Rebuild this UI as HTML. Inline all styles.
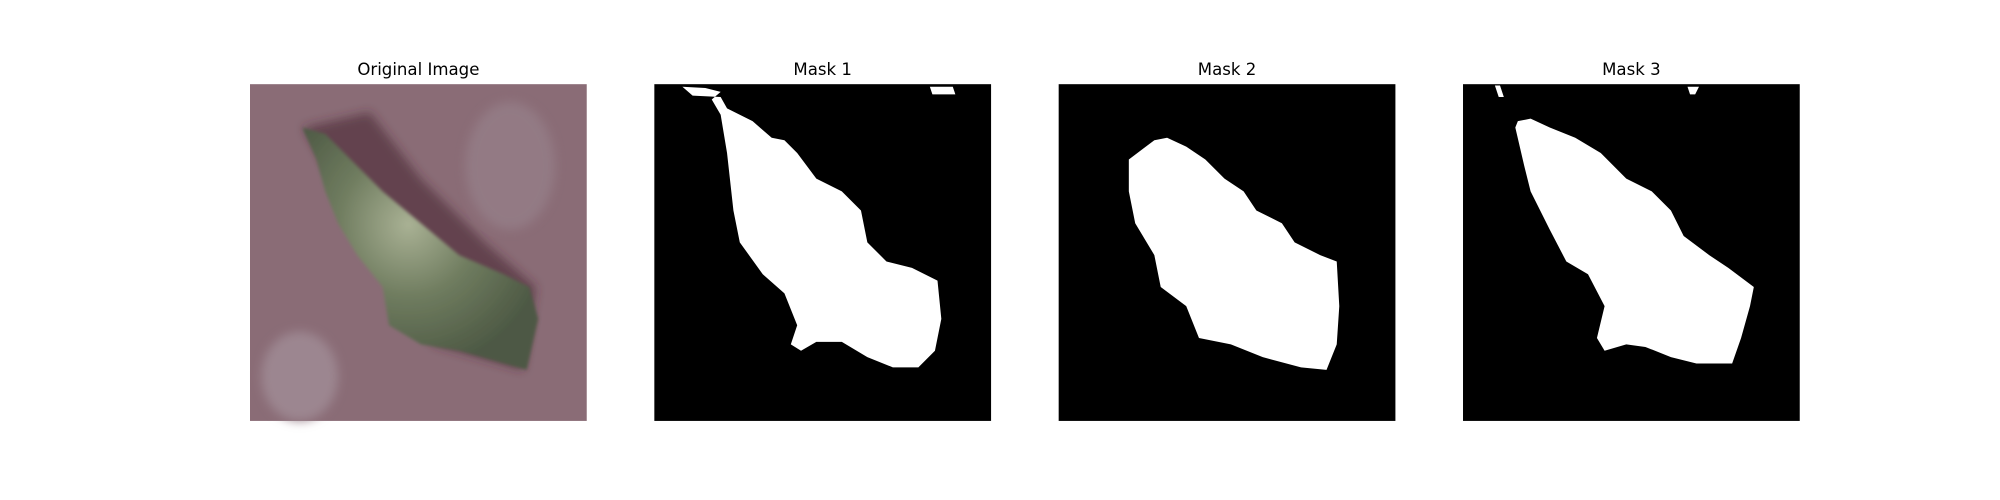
<!DOCTYPE html>
<html><head><meta charset="utf-8"><style>
html,body{margin:0;padding:0;background:#fff;}
svg{display:block;}
text{font-family:"DejaVu Sans","Liberation Sans",sans-serif;}
</style></head><body>
<svg id="fig" width="2000" height="500" viewBox="0 0 1568 392" xmlns="http://www.w3.org/2000/svg">
<defs>
<radialGradient id="leafg" cx="0.45" cy="0.4" r="0.6">
<stop offset="0" stop-color="#a9b194"/><stop offset="0.5" stop-color="#6f7c5f"/><stop offset="1" stop-color="#4d5944"/>
</radialGradient>
<filter id="blur"><feGaussianBlur stdDeviation="4"/></filter>
<filter id="blur2"><feGaussianBlur stdDeviation="1.2"/></filter>
</defs>
<g id="panel-orig">
<rect x="196" y="66" width="264" height="264" fill="#8a6c76"/>
<g filter="url(#blur)">
<ellipse cx="235" cy="295" rx="30" ry="35" fill="#9c8690"/>
<ellipse cx="400" cy="130" rx="35" ry="50" fill="#937a84"/>
<path d="M238 100 L290 88 L330 140 L380 190 L420 225 L410 290 L340 270 Z" fill="#4a2a32" opacity="0.6"/>
</g>
<path filter="url(#blur2)" d="M237 100 L255 105 L275 125 L300 150 L330 175 L360 200 L395 215 L415 225 L422 250 L413 290 L395 285 L360 275 L330 270 L305 255 L300 225 L280 200 L265 175 L255 150 L248 125 Z" fill="url(#leafg)"/>
<text x="328" y="59" font-size="13" text-anchor="middle">Original Image</text>
</g>
<g id="masks"></g>
</svg>
<script>
const maskTitles=["Mask 1","Mask 2","Mask 3"];
const panelLeft=[513,830,1147];
const mask1=[[22,2],[40,3],[52,6],[45,12],[52,24],[57,54],[62,99],[67,124],[85,149],[102,164],[112,189],[107,204],[115,209],[127,202],[147,202],[167,214],[187,222],[207,222],[220,209],[225,184],[222,154],[202,144],[182,139],[167,124],[162,99],[147,84],[127,74],[112,54],[102,44],[92,42],[77,29],[57,19],[52,10],[30,9]];
const mask1b=[[216,2],[234,2],[236,8],[218,8]];
const mask2=[[75,44],[55,59],[55,84],[60,109],[75,134],[80,159],[100,174],[110,199],[135,204],[160,214],[190,222],[210,224],[218,204],[220,174],[218,139],[205,134],[185,124],[175,109],[155,99],[145,84],[130,74],[115,59],[100,49],[85,42]];
const mask3=[[43,29],[41,34],[48,64],[53,84],[68,114],[81,139],[98,149],[111,174],[105,199],[111,209],[128,204],[143,206],[163,214],[183,219],[211,219],[218,199],[225,174],[228,159],[208,144],[193,134],[173,119],[163,99],[148,84],[128,74],[108,54],[88,42],[68,34],[53,27]];
const mask3b=[[25,1],[29,1],[32,10],[28,10]];
const mask3c=[[176,2],[185,2],[182,8],[178,8]];
const masks=[[mask1,mask1b],[mask2],[mask3,mask3b,mask3c]];
const NS="http://www.w3.org/2000/svg";
const g=document.getElementById('masks');
const top0=66,size=264;
masks.forEach((shapes,i)=>{
  const px=panelLeft[i];
  const grp=document.createElementNS(NS,'g');
  
  
  const bg=document.createElementNS(NS,'rect');
  
  
  bg.setAttribute('x',px);bg.setAttribute('y',top0);bg.setAttribute('width',size);bg.setAttribute('height',size);bg.setAttribute('fill','#000');
  grp.appendChild(bg);
  shapes.forEach(pts=>{
    const p=document.createElementNS(NS,'polygon');
    
    
    p.setAttribute('points',pts.map(q=>(px+q[0])+','+(top0+q[1])).join(' '));
    p.setAttribute('fill','#fff');
    grp.appendChild(p);
  });
  const t=document.createElementNS(NS,'text');
  
  
  t.setAttribute('x',px+size/2);t.setAttribute('y',59);t.setAttribute('font-size',13);t.setAttribute('text-anchor','middle');
  t.textContent=maskTitles[i];
  grp.appendChild(t);
  g.appendChild(grp);
});
</script>
</body></html>
